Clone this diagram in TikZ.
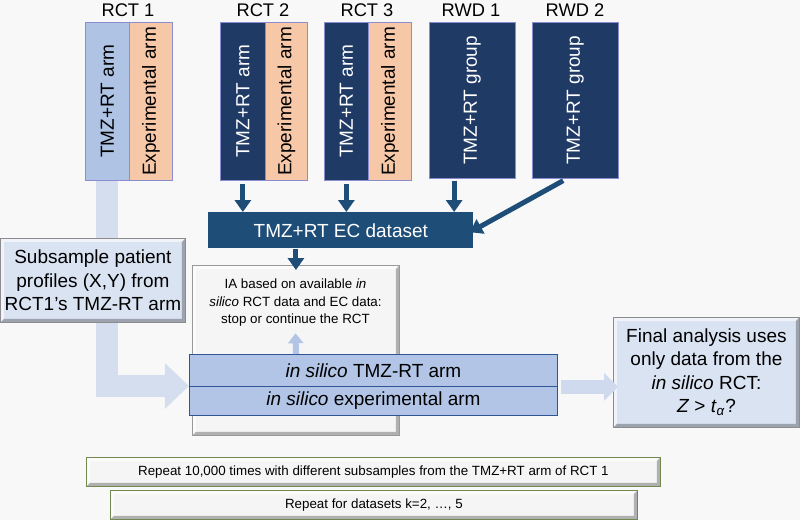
\documentclass[tikz,border=0pt]{standalone}
\usepackage{fontspec}
\setmainfont{Liberation Sans}
\usepackage{graphicx}
\usetikzlibrary{arrows.meta,calc}

\definecolor{bg}{HTML}{F8F8F8}
\definecolor{navy}{HTML}{203A66}
\definecolor{ecblue}{HTML}{1E4D78}
\definecolor{ctrlblue}{HTML}{AFC3E5}
\definecolor{peach}{HTML}{F6C8A8}
\definecolor{paleblue}{HTML}{D4DEEF}
\definecolor{armblue}{HTML}{B2C5E6}
\definecolor{armedge}{HTML}{2F5597}
\definecolor{boxblue}{HTML}{DAE3F2}
\definecolor{olive}{HTML}{71884F}

\newcommand{\pxl}{0.025cm}
\newcommand{\lgtext}{\fontsize{13.5}{16.7}\selectfont}
\newcommand{\smtext}{\fontsize{9.5}{12.4}\selectfont}

\tikzset{
  sz/.style 2 args={minimum width=#1*\pxl, minimum height=#2*\pxl, inner sep=0pt, anchor=north west},
  title/.style={font=\fontsize{13}{15}\selectfont},
  trial/.style={draw=black!40!blue!45, line width=0.5pt, font=\lgtext},
  ctrl/.style={trial, fill=ctrlblue},
  expt/.style={trial, fill=peach},
  navybox/.style={trial, fill=navy, text=white},
  bevel/.style={path picture={
    \coordinate (bsw) at (path picture bounding box.south west);
    \coordinate (bne) at (path picture bounding box.north east);
    \fill[white, opacity=.6] (bsw) -- (bsw|-bne) -- (bne) -- ($(bne)+(-2.5pt,-2.5pt)$)
      -- ($(bsw|-bne)+(2.5pt,-2.5pt)$) -- ($(bsw)+(2.5pt,2.5pt)$) -- cycle;
    \fill[black, opacity=.28] (bsw) -- (bsw-|bne) -- (bne) -- ($(bne)+(-2.5pt,-2.5pt)$)
      -- ($(bsw-|bne)+(-2.5pt,2.5pt)$) -- ($(bsw)+(2.5pt,2.5pt)$) -- cycle;
  }},
  infobox/.style={bevel, fill=boxblue, draw=black!45, line width=0.6pt, font=\lgtext, align=center},
  repbox/.style={bevel, fill=white!96!black, draw=olive, line width=0.6pt, font=\smtext},
  armbox/.style={fill=armblue, draw=armedge, line width=0.6pt, font=\lgtext},
  darrow/.style={ecblue, line width=0.125cm, -{Triangle[width=0.4cm,length=0.3cm]}},
  bigpale/.style={paleblue, line width=0.55cm, -{Triangle[width=1.1cm,length=0.6cm]}},
  midpale/.style={paleblue!85!armblue, line width=0.35cm, -{Triangle[width=0.675cm,length=0.35cm]}},
  smallpale/.style={armblue, line width=0.15cm, -{Triangle[width=0.375cm,length=0.25cm]}}
}

\begin{document}
\begin{tikzpicture}[x=0.025cm, y=-0.025cm]
	\useasboundingbox (0,0) rectangle (800,520);
	\fill[bg] (0,0) rectangle (800,520);

	% trials and real world data
	\node[title] (t1) at (128,10) {RCT 1};
	\node[title] (t2) at (263,10) {RCT 2};
	\node[title] (t3) at (367,10) {RCT 3};
	\node[title] (w1) at (471,10) {RWD 1};
	\node[title] (w2) at (575,10) {RWD 2};
	\node[ctrl, sz={44}{158}] (rct1c) at (85,22) {\rotatebox{90}{TMZ+RT arm}};
	\node[expt, sz={43}{158}] (rct1e) at (129,22) {\rotatebox{90}{Experimental arm}};
	\node[navybox, sz={45}{158}] (rct2c) at (220,22) {\rotatebox{90}{TMZ+RT arm}};
	\node[expt, sz={42}{158}] (rct2e) at (265,22) {\rotatebox{90}{Experimental arm}};
	\node[navybox, sz={44}{158}] (rct3c) at (324,22) {\rotatebox{90}{TMZ+RT arm}};
	\node[expt, sz={43}{158}] (rct3e) at (368,22) {\rotatebox{90}{Experimental arm}};
	\node[navybox, sz={86}{156}] (rwd1) at (429,22) {\rotatebox{90}{TMZ+RT group}};
	\node[navybox, sz={86}{156}] (rwd2) at (532,22) {\rotatebox{90}{TMZ+RT group}};

	\node[sz={265}{36}, fill=ecblue, text=white, font=\lgtext] (ec) at (208,212) {TMZ+RT EC dataset};

	% subsampling from RCT 1
	\coordinate (armjoin) at (189,386);
	\draw[bigpale] (rct1c.south) |- (armjoin);
	\node[infobox, sz={185}{84}] (sub) at (0,238) {Subsample patient\\profiles (X,Y) from\\RCT1’s TMZ-RT arm};

	% in silico trial
	\node[bevel, sz={207}{170}, fill=black!4, draw=black!40, line width=0.6pt] (ia) at (192,265) {};
	\node[anchor=north, font=\smtext, align=center] (iatext) at (295.5,274)
		{IA based on available \textit{in}\\\textit{silico} RCT data and EC data:\\stop or continue the RCT};
	\node[armbox, sz={368}{32}] (armc) at (189,354) {\textit{in silico} TMZ-RT arm};
	\node[armbox, sz={368}{29}] (arme) at (armjoin) {\textit{in silico} experimental arm};
	\draw[smallpale, shorten >=0.05cm] (armc.north -| ia.north) -- (iatext.south);

	\coordinate (r1) at ($(rwd1.south west)!0.29!(rwd1.south east)$);
	\coordinate (r2) at ($(rwd2.south west)!0.4!(rwd2.south east)$);
	\draw[darrow, shorten <=0.075cm] (rct2c.south) -- (rct2c.south |- ec.north);
	\draw[darrow, shorten <=0.075cm] (rct3c.south) -- (rct3c.south |- ec.north);
	\draw[darrow, shorten <=0.05cm] (r1) -- (r1 |- ec.north);
	\draw[darrow, shorten <=0.1cm, shorten >=-0.1cm] (r2) -- (ec.east);
	\draw[darrow, shorten >=-0.125cm] (ec.south -| ia.north) -- (ia.north);

	% final analysis
	\node[infobox, sz={186}{110}] (final) at (613,317)
		{Final analysis uses\\only data from the\\\textit{in silico} RCT:\\\textit{Z} > \textit{t}\textsubscript{\textit{α}}?};
	\draw[midpale, shorten <=0.075cm, shorten >=-0.125cm] (armc.south east) -- (final.west |- armc.south east);

	\node[repbox, sz={574}{29}] (rep1) at (86,457) {Repeat 10,000 times with different subsamples from the TMZ+RT arm of RCT 1};
	\node[repbox, sz={527}{29}] (rep2) at (110,490) {Repeat for datasets k=2, …, 5};
\end{tikzpicture}
\end{document}
